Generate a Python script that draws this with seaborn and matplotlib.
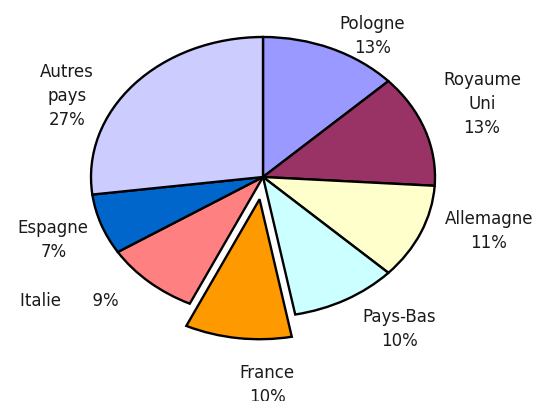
import numpy as np
import matplotlib
matplotlib.use("Agg")
import matplotlib.pyplot as plt
import seaborn as sns


# ==================================
# DATA
# ==================================

pays = ["Pologne", "Royaume\nUni", "Allemagne", "Pays-Bas",
        "France", "Italie", "Espagne", "Autres\npays"]
parts = [13, 13, 11, 10, 10, 9, 7, 27]

couleurs = ["#9999FF", "#993366", "#FFFFCC", "#CCFFFF",
            "#FF9900", "#FF8080", "#0066CC", "#CCCCFF"]

# France sortie du camembert
eclate = [0, 0, 0, 0, 0.16, 0, 0, 0]

# position des etiquettes : (distance, decalage d'angle en degres)
pos_etiquettes = [(1.19, -8.8), (1.376, 2.5), (1.37, 7.0), (1.343, 7.3),
                  (1.486, 8.1), (1.434, -10.4), (1.30, 0.5), (1.278, 14.5)]


# ==================================
# FIGURE
# ==================================

sns.set_style("white")
plt.rcParams["font.family"] = ["DejaVu Sans"]

fig = plt.figure(figsize=(5.39, 4.01), dpi=100)
ax = fig.add_axes([0, 0, 1, 1])

wedges, _ = ax.pie(
    parts,
    colors=sns.color_palette(couleurs),
    explode=eclate,
    startangle=90,
    counterclock=False,
    wedgeprops=dict(edgecolor="black", linewidth=1.7),
)

# camembert en ellipse, centre vers (263, 177) px
ax.set_aspect("auto")
ax.set_xlim(-263 / 172, (539 - 263) / 172)
ax.set_ylim(-224 / 140, 177 / 140)
ax.axis("off")

for w, nom, v, (r, da) in zip(wedges, pays, parts, pos_etiquettes):
    ang = np.deg2rad((w.theta1 + w.theta2) / 2 + da)
    if nom == "Italie":
        txt = f"{nom}      {v}%"
    else:
        txt = f"{nom}\n{v}%"
    ax.text(r * np.cos(ang), r * np.sin(ang), txt,
            ha="center", va="center", fontsize=12,
            color="#1a1a1a", linespacing=1.42)

fig.savefig("out.png", dpi=100)
plt.close(fig)
